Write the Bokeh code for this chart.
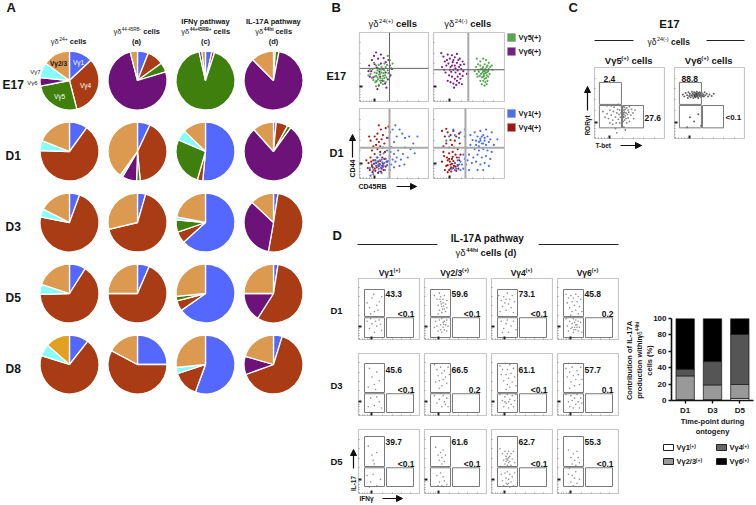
from math import pi
from bokeh.plotting import figure
from bokeh.embed import file_html
from bokeh.resources import INLINE
from bokeh.core.properties import value
from bokeh.models import Arrow, NormalHead, Range1d, FixedTicker, FactorRange

FONT = "Liberation Sans"
# ---------------- data: pies (Vg1, Vg4, Vg5, Vg6, Vg7, Vg2/3)
PIE_COLORS = ["#5468FF", "#A93C14", "#3F7F0E", "#6C1278", "#86FFFF", "#DB9A50"]
PIE_E17 = [[13, 33, 26, 4.5, 8.5, 15], [6, 9, 5.3, 75.7, 0, 4], [3.5, 1.5, 91.5, 1.5, 0, 2], [1, 0, 2, 84.5, 0, 12.5]]
PIE_D1 = [[10, 65.5, 0, 0, 5.5, 19], [7, 41.5, 2, 8, 1.5, 40], [51.5, 3, 27, 0, 5.8, 12.7], [1.5, 6.5, 2, 78.4, 0, 11.6]]
PIE_D3 = [[5.6, 72.4, 0, 0, 4.5, 17.5], [4.5, 66.8, 0, 0, 0, 28.7], [63.3, 6.4, 6.7, 0, 1.6, 22], [2.5, 50.3, 0, 34.2, 0, 13]]
PIE_D5 = [[9, 65.5, 0, 0, 5.5, 20], [6.5, 68.5, 0, 0, 0, 25], [65.3, 5.7, 2.5, 0, 0, 26.5], [2.5, 56.5, 0, 16, 0, 25]]
PIE_D8 = [[10.6, 69.2, 0, 0, 6.7, 13.5], [25, 57.8, 0, 0, 0, 17.2], [55.6, 14.4, 0, 0, 3.5, 26.5], [4.8, 64.7, 0, 10, 0, 20.5]]
PIE_ROWS = [("E17", PIE_E17), ("D1", PIE_D1), ("D3", PIE_D3), ("D5", PIE_D5), ("D8", PIE_D8)]

# ---------------- data: bars
BAR_DAYS = ["D1", "D3", "D5"]
BAR_VG1 = [1, 1, 2.5]
BAR_VG23 = [29, 18, 17]
BAR_VG4 = [8, 28.5, 61]
BAR_VG6 = [62, 52.5, 19.5]

# ---------------- data: flow labels
D_TOP = [["43.3", "59.6", "73.1", "45.8"], ["45.6", "66.5", "61.1", "57.7"], ["39.7", "61.6", "62.7", "55.3"]]
D_BOT = [["<0.1", "<0.1", "<0.1", "0.2"], ["<0.1", "0.2", "<0.1", "0.1"], ["<0.1", "<0.1", "<0.1", "<0.1"]]

# ---------------- data: dots (percent of frame, y upward)
B_E17L_PURPLE = [(14,52),(18,60),(21,66),(24,71),(27,62),(31,68),(35,63),(38,57),(42,60),(17,44),(20,35),(15,36),(24,29),(28,23),(33,30),(37,26),(41,32),(45,38),(47,47),(25,49),(29,43),(34,47),(30,36),(38,42),(22,54),(31,55),(26,18),(39,20),(13,44),(44,52)]
B_E17L_GREEN = [(16,40),(19,47),(22,42),(24,37),(26,45),(28,39),(30,34),(32,42),(34,37),(36,45),(38,50),(20,31),(23,28),(27,32),(31,27),(35,30),(39,35),(42,41),(46,48),(48,55),(44,60),(41,66),(36,55),(32,50),(28,53),(24,52),(21,56),(18,34),(15,47),(25,41),(29,46),(33,33),(37,38),(26,35),(30,40),(34,25),(28,24),(24,22),(38,28),(41,45),(22,36),(27,48),(35,41),(40,53),(30,30),(13,38),(44,36),(31,46),(25,30),(36,34)]
B_E17R_PURPLE = [(11,70),(14,65),(16,58),(20,68),(23,62),(26,67),(30,64),(33,69),(37,62),(41,58),(43,54),(12,50),(15,46),(18,52),(21,55),(24,50),(27,57),(30,52),(33,56),(36,50),(39,47),(25,43),(28,46),(31,42),(34,45),(37,40),(22,38),(26,36),(30,33),(34,36),(38,33),(41,37),(20,30),(24,28),(28,26),(32,24),(36,27),(40,25),(29,20),(47,40),(19,60),(28,60),(35,60),(23,46),(17,42),(31,48),(26,52),(38,53),(42,44),(33,30)]
B_E17R_GREEN = [(61,62),(66,58),(70,62),(74,60),(78,56),(82,52),(60,50),(63,46),(66,52),(69,48),(72,54),(75,50),(78,47),(83,46),(58,44),(61,40),(64,43),(67,40),(70,44),(73,41),(76,43),(79,40),(68,35),(71,37),(74,34),(77,36),(66,30),(70,30),(73,28),(76,30),(68,25),(72,23),(75,25),(62,36),(70,50),(73,47),(75,38),(72,44),(74,46),(71,40),(69,42),(77,44),(65,37),(72,33),(74,42),(70,36),(67,47),(76,52),(80,50),(63,54)]
B_D1L_RED = [(13,22),(16,30),(18,18),(20,26),(22,14),(24,22),(26,30),(28,18),(30,25),(32,14),(34,21),(36,28),(38,17),(15,12),(19,9),(23,11),(27,8),(31,10),(35,12),(40,24),(10,26),(12,15),(21,21),(25,16),(29,21),(33,18),(17,24),(22,35),(26,42),(30,38),(34,44),(24,48),(28,52),(32,56),(36,50),(20,46),(18,40),(14,60),(22,60),(26,64),(34,62),(38,72),(31,70),(28,76),(42,74),(25,56),(30,46),(23,26),(27,24),(19,16),(37,38),(40,58),(44,66),(16,54),(33,30)]
B_D1L_BLUE = [(15,15),(18,20),(20,12),(22,26),(24,18),(26,24),(28,14),(30,20),(32,27),(34,16),(36,22),(38,28),(40,19),(42,25),(44,31),(46,20),(48,27),(50,35),(52,24),(54,30),(56,40),(60,27),(63,35),(66,44),(70,30),(74,42),(78,50),(84,60),(46,45),(50,52),(54,60),(58,70),(62,64),(42,58),(48,70),(52,76),(66,58),(72,60),(80,36),(25,30),(30,34),(35,36),(40,40),(45,38),(28,10),(32,8),(20,6),(16,4),(37,12),(44,12),(50,16),(58,18),(65,20),(33,23),(27,19),(23,22),(29,26),(35,18),(39,24),(31,16)]
B_D1R_RED = [(12,24),(15,32),(18,18),(20,26),(22,12),(24,20),(26,28),(28,15),(30,22),(32,11),(34,19),(36,26),(16,12),(20,9),(25,16),(29,18),(23,24),(14,46),(18,50),(22,44),(26,48),(30,54),(34,42),(37,50),(16,60),(20,66),(24,62),(28,68),(32,60),(36,64),(12,68),(18,71),(22,36),(27,38),(31,34),(24,55),(29,44),(20,19),(26,21),(33,30),(38,34),(14,38),(25,10),(19,30),(28,25),(35,14),(22,28),(31,17),(24,14),(27,31)]
B_D1R_BLUE = [(55,55),(60,48),(62,60),(64,52),(66,57),(68,50),(70,62),(72,54),(74,48),(76,60),(78,52),(80,56),(85,48),(58,66),(66,68),(74,70),(82,66),(52,48),(58,42),(64,40),(70,42),(76,40),(82,38),(50,34),(56,30),(62,34),(68,30),(74,32),(80,28),(54,22),(60,24),(66,20),(72,22),(78,18),(30,12),(34,18),(38,24),(42,14),(46,20),(50,12),(36,30),(42,34),(46,44),(30,22),(34,26),(40,20),(44,28),(26,14),(38,12),(48,26),(22,60),(30,62),(38,66),(44,60),(28,70),(36,58),(18,54),(62,12),(70,12),(90,56),(44,70),(52,62),(66,54),(68,60),(64,46),(72,58),(70,50),(60,54),(36,20),(32,14)]

C_L = [(12,38),(15,30),(18,35),(20,28),(22,40),(24,33),(26,26),(27,38),(28,44),(30,30),(31,22),(32,36),(33,41),(34,27),(35,34),(36,22),(36,40),(37,30),(38,46),(38,36),(39,26),(39,18),(40,42),(40,34),(40,28),(40,38),(41,31),(41,45),(41,24),(41,36),(42,40),(42,30),(42,16),(42,34),(43,44),(43,37),(43,26),(44,32),(44,41),(45,36),(45,28),(46,43),(46,22),(47,34),(48,40),(48,29),(49,37),(50,45),(50,24),(52,33),(53,41),(55,36),(56,28),(58,40),(22,22),(26,20),(30,14),(18,46),(24,46),(34,48),(32,8),(44,12)]
C_R = [(12,62),(14,59),(16,64),(18,61),(19,57),(20,65),(21,60),(22,63),(23,58),(24,61),(25,66),(26,60),(26,63),(27,57),(28,62),(28,65),(29,59),(29,61),(30,64),(30,58),(31,62),(31,60),(32,66),(32,63),(33,59),(33,61),(34,64),(34,57),(35,62),(36,60),(36,65),(37,63),(38,58),(38,61),(39,64),(40,60),(41,62),(42,59),(43,65),(44,61),(46,63),(48,59),(50,62),(53,60),(56,63),(22,30),(28,24),(34,34),(38,18),(18,16)]

D_DOTS = [
 [[(14,60),(18,52),(22,68),(26,46),(30,56),(34,62),(20,42),(32,48),(38,70),(25,74),(14,30),(18,18),(22,26),(26,12),(30,22),(34,32),(38,15),(20,34),(28,30),(36,25)],
  [(16,72),(20,66),(22,56),(24,48),(26,62),(26,70),(28,44),(28,54),(30,60),(30,66),(32,50),(32,72),(34,58),(34,46),(36,64),(24,76),(22,42),(36,52),(27,58),(29,50),(31,55),(25,66),(18,30),(20,22),(22,14),(24,32),(26,24),(28,12),(28,34),(30,20),(30,28),(32,16),(32,30),(34,24),(36,14),(36,32),(38,22),(16,20),(26,16),(31,25)],
  [(12,72),(16,64),(18,54),(20,70),(22,60),(24,48),(26,76),(28,58),(30,66),(32,52),(34,72),(36,44),(38,62),(14,46),(24,66),(16,30),(20,18),(24,26),(28,12),(32,22),(36,30),(40,16),(18,12),(26,32)],
  [(14,74),(16,60),(18,68),(20,52),(22,72),(24,62),(24,46),(26,68),(28,56),(30,74),(30,48),(32,62),(34,70),(36,54),(38,66),(40,46),(22,40),(34,42),(14,34),(16,22),(18,14),(20,30),(22,18),(24,26),(26,12),(26,34),(28,20),(28,28),(30,16),(30,32),(32,24),(34,14),(34,30),(36,20),(38,28),(40,12),(24,20),(30,24),(27,16),(32,20)]],
 [[(18,76),(22,62),(26,50),(30,70),(34,56),(28,42),(16,46),(20,28),(26,16),(30,30),(34,22),(38,12),(16,14)],
  [(16,82),(20,74),(22,64),(24,56),(26,78),(28,68),(28,48),(30,58),(32,72),(34,62),(36,52),(38,78),(18,54),(24,44),(40,66),(16,32),(20,20),(24,26),(28,14),(30,32),(32,22),(36,28),(38,14),(34,18),(26,36)],
  [(14,80),(16,66),(18,74),(20,56),(22,84),(24,66),(26,50),(26,74),(28,60),(30,82),(30,46),(32,68),(34,54),(36,76),(38,62),(40,48),(24,42),(14,34),(18,24),(20,14),(22,30),(24,20),(26,34),(28,12),(30,26),(32,18),(34,32),(36,14),(38,24),(40,34),(28,22),(22,22)],
  [(14,76),(16,62),(18,84),(20,70),(22,54),(24,78),(26,64),(28,48),(30,84),(30,58),(32,72),(34,66),(36,50),(38,78),(40,58),(20,44),(14,34),(18,22),(20,14),(22,32),(24,24),(26,12),(28,28),(30,18),(32,34),(34,22),(36,12),(38,28),(40,20),(26,36)]],
 [[(16,74),(22,60),(26,46),(30,64),(24,52),(14,28),(20,18),(24,30),(30,12),(36,22),(18,10)],
  [(18,72),(22,60),(24,52),(26,64),(28,46),(28,56),(30,68),(32,50),(26,42),(34,60),(20,28),(24,18),(26,32),(28,12),(30,26),(32,20),(36,14),(22,12)],
  [(14,70),(18,62),(20,52),(22,66),(22,46),(24,58),(24,50),(26,62),(26,54),(26,44),(28,56),(28,48),(28,66),(30,58),(30,50),(32,62),(32,44),(34,54),(36,66),(38,48),(24,54),(27,52),(16,30),(18,20),(20,12),(22,32),(24,24),(26,14),(26,34),(28,22),(30,10),(30,30),(32,18),(34,26),(36,12),(38,32),(28,16),(24,16)],
  [(18,68),(22,56),(24,46),(26,62),(28,52),(30,44),(32,66),(34,56),(20,40),(36,48),(18,30),(22,18),(24,28),(26,12),(28,24),(30,34),(32,16),(36,22)]],
]
# gate geometry of panel D: frame left edges, and row (top, height, gate top, split, gate bottom)
D_LEFT = [358, 424, 491, 557]
D_WIDTH = [61, 62, 61, 61]
D_ROWS = [(278, 61, 11, 38, 59), (353, 62, 10, 39, 59), (429, 64, 7, 37, 57)]
D_HEAD = ["Vγ1", "Vγ2/3", "Vγ4", "Vγ6"]

WIDTHS = {" ":.28,"i":.25,"l":.25,"t":.3,"f":.3,"(":.33,")":.33,"-":.33,"+":.58,".":.28,"I":.28,"/":.28,"r":.36,"j":.25,"%":.89,"A":.7,"R":.7,"B":.7,"C":.7,"D":.7,"N":.7,"F":.6,"V":.62,"m":.85,"w":.75}
def tw(s, size):
    return sum(WIDTHS.get(c, .56) for c in s) * size

main = figure(width=756, height=505, x_range=Range1d(0, 756), y_range=Range1d(505, 0),
              output_backend="svg", toolbar_location=None, min_border=0, outline_line_color=None,
              x_axis_location=None, y_axis_location=None,
              styles={"position": "absolute", "left": "0px", "top": "0px"})
main.grid.visible = False

def T(x, y, s, size=8, bold=True, align="left", color="#151515", angle=0.0, fig=None):
    (fig or main).text([x], [y], text=[s], text_font=value(FONT), text_font_size=f"{size}px",
           text_font_style="bold" if bold else "normal", text_align=align,
           text_baseline="middle", text_color=color, angle=angle)

def R(x, y, segs, align="center", angle=0.0):
    """segs: (text, size, bold, raise)"""
    total = sum(tw(s, z) for s, z, b, r in segs)
    pos = -total / 2 if align == "center" else 0
    for s, z, b, r in segs:
        lead = tw(s[:len(s) - len(s.lstrip())], z)
        if angle:
            T(x - r, y - pos - lead, s.strip(), z, b, "left", angle=angle)
        else:
            T(x + pos + lead, y - r, s.strip(), z, b, "left")
        pos += tw(s, z)

def ARW(x0, y0, x1, y1):
    main.add_layout(Arrow(end=NormalHead(size=6, fill_color="#111", line_color="#111"),
                          x_start=x0, y_start=y0, x_end=x1, y_end=y1, line_color="#111", line_width=1.2))

def RULE(x0, x1, y):
    main.line([x0, x1], [y, y], line_color="#222", line_width=1.2)

# ---- panel A
PIE_X = [69, 137, 205, 273]
PIE_Y = [80, 151, 222, 293, 364]
LABEL_Y = [84, 155, 226, 297, 368]
for r, (name, row) in enumerate(PIE_ROWS):
    T(2 if name == "E17" else 5, LABEL_Y[r], name, 12)
    for c, vals in enumerate(row):
        total = sum(vals)
        run = 0.0
        for i, v in enumerate(vals):
            if v <= 0:
                continue
            a0 = pi / 2 - 2 * pi * run / total
            run += v
            a1 = pi / 2 - 2 * pi * run / total
            col = PIE_COLORS[i]
            if name == "D8" and c == 0 and i == 5:
                col = "#E2A120"
            main.wedge([PIE_X[c]], [PIE_Y[r]], radius=29.5, start_angle=a0, end_angle=a1,
                       direction="clock", fill_color=col, line_color="white", line_width=1.3)

T(6, 7, "A", 13)
T(78, 62, "Vγ1", 6.5, False, "center", "white")
T(85, 85, "Vγ4", 6.5, False, "center", "white")
T(59, 96, "Vγ5", 6.5, False, "center", "white")
T(58, 63, "Vγ2/3", 6.5, True, "center", "#111")
T(35, 71, "Vγ7", 6, False, "center")
T(32, 82, "Vγ6", 6, False, "center")
R(68, 41, [("γδ", 7.5, False, 0), ("24+", 5, False, 2.5), (" cells", 7.5, True, 0)])
R(136, 31, [("γδ", 7.5, False, 0), ("44-45RB-", 4.5, False, 2.5), (" cells", 7.5, True, 0)])
T(136, 41, "(a)", 7.5, True, "center")
T(205, 21, "IFNγ pathway", 7.5, True, "center")
R(205, 31, [("γδ", 7.5, False, 0), ("44+45RB+", 4.5, True, 2.5), (" cells", 7.5, True, 0)])
T(205, 41, "(c)", 7.5, True, "center")
T(273, 21, "IL-17A pathway", 7.5, True, "center")
R(273, 31, [("γδ", 7.5, False, 0), ("44hi", 5, True, 2.5), (" cells", 7.5, True, 0)])
T(273, 41, "(d)", 7.5, True, "center")

# ---- panel B texts
T(331, 7, "B", 13)
R(392, 23, [("γδ", 9.5, False, 0), ("24(+)", 6, False, 3), (" cells", 9.5, True, 0)])
R(467, 23, [("γδ", 9.5, False, 0), ("24(-)", 6, False, 3), (" cells", 9.5, True, 0)])
T(326, 75, "E17", 11)
T(329, 152, "D1", 11)
for (c, y, lab, sup) in [("#55A84F", 37, "Vγ5", "(+)"), ("#7A1E87", 51, "Vγ6", "(+)"),
                         ("#4A6FEF", 113, "Vγ1", "(+)"), ("#A3160F", 127, "Vγ4", "(+)")]:
    main.quad(left=[507], right=[515], top=[y - 4], bottom=[y + 4], fill_color=c, line_color="#999", line_width=.5)
    R(518, y, [(lab, 7.5, True, 0), (sup, 7.5, True, 0)], align="left")
T(352, 168, "CD44", 7, True, "center", angle=pi / 2)
ARW(352, 157, 352, 134)
T(358, 186, "CD45RB", 7, True)
ARW(396, 186, 416, 186)

# ---- panel C texts
T(568, 7, "C", 13)
T(669, 23, "E17", 11.5, True, "center")
RULE(594, 633, 40)
RULE(706, 744, 40)
R(668, 41, [("γδ", 8.5, False, 0), ("24(-)", 5.5, False, 3), (" cells", 8.5, True, 0)])
R(628, 60, [("Vγ5", 9.5, True, 0), ("(+)", 6, True, 3), (" cells", 9.5, True, 0)])
R(708, 60, [("Vγ6", 9.5, True, 0), ("(+)", 6, True, 3), (" cells", 9.5, True, 0)])
T(603, 78, "2.4", 8.5)
T(644, 117, "27.6", 8.5)
T(681, 78, "88.8", 8.5)
T(725, 117, "<0.1", 8)
T(587, 125, "RORγt", 6.5, True, "center", angle=pi / 2)
ARW(587, 110, 587, 86)
T(595, 145, "T-bet", 6.5)
ARW(620, 145, 641, 145)

# ---- panel D texts
T(332, 235, "D", 13)
RULE(357, 437, 244)
RULE(538, 618, 244)
T(487, 238, "IL-17A pathway", 10, True, "center")
R(485, 252, [("γδ", 9.5, False, 0), ("44hi", 6, True, 3), (" cells (d)", 9.5, True, 0)])
for x, h in zip([389, 454, 521, 587], D_HEAD):
    R(x, 272, [(h, 8.5, True, 0), ("(+)", 5.5, True, 2.5)])
for y, n in zip([310, 385, 461], ["D1", "D3", "D5"]):
    T(330, y, n, 9.5)
for r, (top, h, g0, g1, g2) in enumerate(D_ROWS):
    ytxt = [293, 369, 441][r]
    ybot = [313, 389, 463][r]
    for c, left in enumerate(D_LEFT):
        T(left + 27, ytxt, D_TOP[r][c], 8.5)
        T(left + 56, ybot, D_BOT[r][c], 8.5, True, "right")
T(353, 483, "IL-17", 6.5, True, "center", angle=pi / 2)
ARW(353, 468, 353, 449)
T(359, 498, "IFNγ", 6.5)
ARW(382, 498, 402, 498)

# ---- bar chart texts
T(629, 360, "Contribution of IL-17A", 7.5, True, "center", angle=pi / 2)
R(639, 360, [("production within ", 7.5, True, 0), ("γδ", 6.5, False, 0), ("44hi", 4.5, True, 2)], angle=pi / 2)
T(649, 360, "cells (%)", 7.5, True, "center", angle=pi / 2)
T(712, 421, "Time-point during", 7.5, True, "center")
T(712, 431, "ontogeny", 7.5, True, "center")
for (x0, y, c, lab) in [(663, 447, "white", "Vγ1"), (716, 447, "#666666", "Vγ4"),
                        (663, 461, "#999999", "Vγ2/3"), (716, 461, "#000000", "Vγ6")]:
    main.quad(left=[x0], right=[x0 + 10], top=[y - 3], bottom=[y + 3], fill_color=c, line_color="#222", line_width=1)
    R(x0 + 13, y, [(lab, 7.5, True, 0), ("(+)", 5, True, 2)], align="left")

# ---- flow panels
figs = [main]

def flow(left, top, w, h, gates=(), cross=(), series=()):
    f = figure(width=w + 2, height=h + 2, x_range=Range1d(0, 100), y_range=Range1d(0, 100),
               output_backend="svg", toolbar_location=None, min_border=1,
               outline_line_color="#C6C6C6", outline_line_width=1.2,
               background_fill_color=None, border_fill_color=None,
               styles={"position": "absolute", "left": f"{left - 1}px", "top": f"{top - 1}px"})
    f.grid.visible = False
    for ax in (f.xaxis[0], f.yaxis[0]):
        ax.ticker = FixedTicker(ticks=[22], minor_ticks=[2, 6, 10, 14, 18, 40, 55, 70, 85])
        ax.major_tick_in = 3
        ax.major_tick_out = 0
        ax.minor_tick_in = 1
        ax.minor_tick_out = 0
        ax.major_tick_line_color = "#222"
        ax.major_tick_line_width = 2
        ax.minor_tick_line_color = "#999"
        ax.axis_line_color = None
        ax.major_label_overrides = {22: " "}
        ax.major_label_text_font_size = "1px"
        ax.major_label_text_color = None
        ax.major_label_standoff = 0
    for pts, color, size, alpha in series:
        f.scatter([p[0] for p in pts], [p[1] for p in pts], size=size, marker="circle",
                  fill_color=color, fill_alpha=alpha, line_color=None)
    for (x0, x1, y0, y1) in gates:
        f.quad(left=[x0], right=[x1], bottom=[y0], top=[y1], fill_color=None, line_color="#7A7A7A", line_width=1)
    for (xs, ys, col, lw) in cross:
        f.line(xs, ys, line_color=col, line_width=lw)
    figs.append(f)
    return f

flow(359, 32, 69, 69, series=[(B_E17L_PURPLE, "#7A1E87", 2.2, 1), (B_E17L_GREEN, "#55A84F", 2.2, 1)],
     cross=[([43.5, 43.5], [0, 100], "#666", 1), ([0, 100], [48, 48], "#666", 1)])
flow(433, 32, 71, 69, series=[(B_E17R_PURPLE, "#7A1E87", 2.2, 1), (B_E17R_GREEN, "#55A84F", 2.2, 1)],
     cross=[([49, 49], [0, 100], "#AAA", 2), ([0, 100], [46, 46], "#555", 1)])
flow(359, 108, 69, 70, series=[(B_D1L_RED, "#A3160F", 2.2, 1), (B_D1L_BLUE, "#4A6FEF", 2.2, 1)],
     cross=[([43.5, 43.5], [0, 100], "#AAA", 2), ([0, 100], [44, 44], "#AAA", 2)])
flow(433, 108, 71, 70, series=[(B_D1R_RED, "#A3160F", 2.2, 1), (B_D1R_BLUE, "#4A6FEF", 2.2, 1)],
     cross=[([45, 45], [0, 100], "#AAA", 2), ([0, 100], [44, 44], "#AAA", 2)])

C_GATES = [(7, 38.5, 48, 79), (7, 38.5, 15, 46.5), (40, 70, 15, 46.5)]
flow(594, 67, 70, 71, gates=C_GATES, series=[(C_L, "#333", 1.8, .6)])
flow(674, 67, 70, 71, gates=C_GATES, series=[(C_R, "#222", 2, .7)])

for r, (top, h, g0, g1, g2) in enumerate(D_ROWS):
    for c, left in enumerate(D_LEFT):
        w = D_WIDTH[c]
        y_top = 100 - 100 * g0 / h
        y_mid = 100 - 100 * g1 / h
        y_bot = 100 - 100 * g2 / h
        x0 = 100 * 6 / w
        x1 = 100 * 26 / w
        x2 = 100 * 28 / w
        x3 = 100 * 55 / w
        gates = [(x0, x1, y_mid, y_top), (x0, x1, y_bot, y_mid - 2), (x2, x3, y_bot, y_mid - 2)]
        flow(left, top, w, h, gates=gates, series=[(D_DOTS[r][c], "#444", 1.6, .6)])

# ---- bar chart (real axes)
bar = figure(width=104, height=104, x_range=FactorRange(*BAR_DAYS, range_padding=0), y_range=Range1d(0, 100),
             output_backend="svg", toolbar_location=None, min_border_left=21, min_border_right=1,
             min_border_top=5, min_border_bottom=17, outline_line_color=None,
             background_fill_color=None, border_fill_color=None,
             styles={"position": "absolute", "left": "650px", "top": "313px"})
bar.grid.visible = False
bar.vbar_stack(["a", "b", "c", "d"], x="day", width=.67,
               color=["white", "#999999", "#555555", "#000000"], line_color="#222", line_width=.8,
               source=dict(day=BAR_DAYS, a=BAR_VG1, b=BAR_VG23, c=BAR_VG4, d=BAR_VG6))
bar.yaxis.ticker = FixedTicker(ticks=[0, 20, 40, 60, 80, 100], minor_ticks=[])
for ax in (bar.xaxis[0], bar.yaxis[0]):
    ax.major_label_text_font = FONT
    ax.major_label_text_font_style = "bold"
    ax.major_label_text_font_size = "8px"
    ax.major_label_text_color = "#151515"
    ax.axis_line_width = 1.6
    ax.axis_line_color = "#111"
    ax.major_tick_line_width = 1.4
    ax.major_tick_line_color = "#111"
    ax.major_tick_in = 0
    ax.major_tick_out = 3
    ax.minor_tick_line_color = None
    ax.major_label_standoff = 2
figs.append(bar)

open("out.html", "w").write(file_html(figs, INLINE))
